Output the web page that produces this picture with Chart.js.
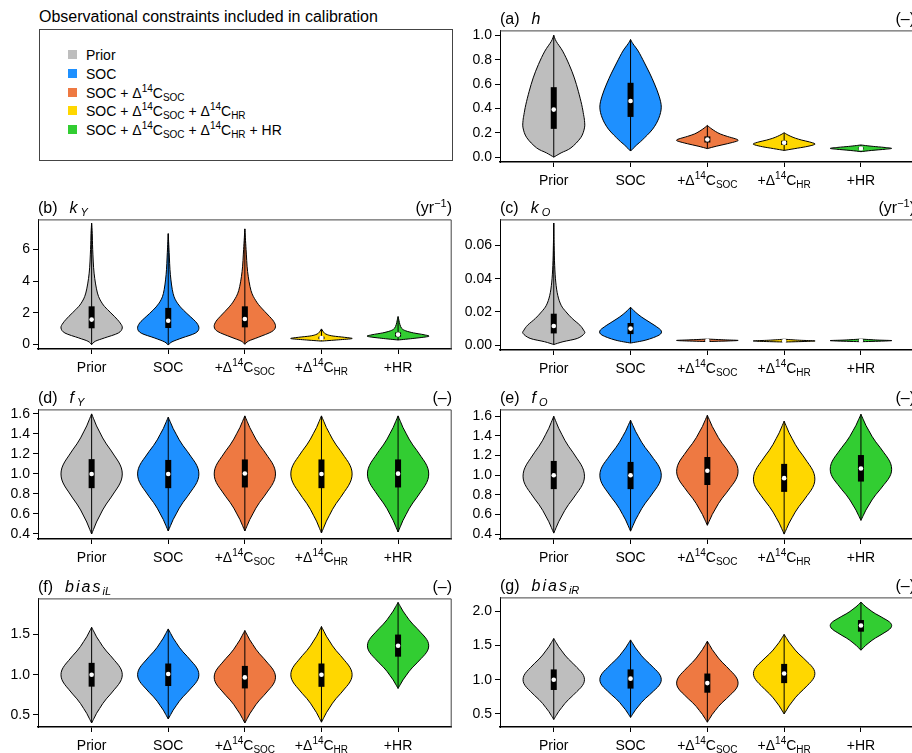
<!DOCTYPE html>
<html>
<head>
<meta charset="utf-8">
<title>Observational constraints included in calibration</title>
<script src="https://cdn.jsdelivr.net/npm/chart.js@4.4.1/dist/chart.umd.min.js"></script>
<style>
  body { margin:0; width:912px; height:753px; overflow:hidden; background:#fff; position:relative;
         font-family:"Liberation Sans", Arial, sans-serif; color:#000; }
  canvas { position:absolute; }
  .lbl { position:absolute; font-size:16px; line-height:18px; white-space:nowrap; }
  .unit { text-align:right; }
  sup, sub { font-size:10px; line-height:0; }
  .lbl sup, .lbl sub { font-size:11px; }
  sub { vertical-align:-3px; }
  sup { vertical-align:6px; }
  #legend { position:absolute; left:39px; top:29px; width:414px; height:132px; border:1px solid #444; box-sizing:border-box; }
  .sq { position:absolute; width:9px; height:9px; left:28px; }
  .item { position:absolute; left:46px; font-size:14px; line-height:16px; white-space:nowrap; }
</style>
</head>
<body>
<div class="lbl" style="left:39px;top:8px">Observational constraints included in calibration</div>
<div id="legend"></div>
<script>
// shared categories / colours
const categories = ['Prior', 'SOC', '+Δ^{14}C_{SOC}', '+Δ^{14}C_{HR}', '+HR'];
const legendLabels = ['Prior', 'SOC', 'SOC + Δ^{14}C_{SOC}', 'SOC + Δ^{14}C_{SOC} + Δ^{14}C_{HR}',
                      'SOC + Δ^{14}C_{SOC} + Δ^{14}C_{HR} + HR'];
const fills = ['#BEBEBE', '#1E90FF', '#EE7942', '#FFD700', '#32CD32'];

// (a) h   -- shapes are [value, relative half width] from bottom tip to top tip
const hTicks = [0, 0.2, 0.4, 0.6, 0.8, 1.0];
const hMedian = [0.39, 0.46, 0.145, 0.118, 0.071];
const hQ1 = [0.232, 0.33, 0.12, 0.10, 0.065];
const hQ3 = [0.574, 0.61, 0.17, 0.135, 0.078];
const hShapes = [
  [[0, 0], [0.035, 0.24], [0.076, 0.56], [0.16, 0.88], [0.24, 1.0], [0.3, 1.0], [0.35, 0.97], [0.43, 0.91], [0.54, 0.8], [0.65, 0.67], [0.76, 0.5], [0.87, 0.29], [0.95, 0.08], [1.0, 0]],
  [[0.05, 0], [0.1, 0.2], [0.14, 0.38], [0.23, 0.72], [0.32, 0.92], [0.41, 1.0], [0.5, 0.93], [0.6, 0.78], [0.69, 0.62], [0.78, 0.44], [0.87, 0.25], [0.93, 0.08], [0.965, 0]],
  [[0.07, 0], [0.09, 0.3], [0.11, 0.65], [0.13, 0.95], [0.14, 1.0], [0.15, 0.92], [0.17, 0.65], [0.19, 0.42], [0.21, 0.27], [0.23, 0.15], [0.245, 0.07], [0.26, 0]],
  [[0.055, 0], [0.07, 0.35], [0.085, 0.7], [0.1, 0.95], [0.11, 1.0], [0.125, 0.82], [0.14, 0.57], [0.155, 0.37], [0.17, 0.22], [0.185, 0.1], [0.2, 0]],
  [[0.045, 0], [0.055, 0.35], [0.065, 0.8], [0.072, 1.0], [0.08, 0.75], [0.088, 0.4], [0.095, 0.15], [0.1, 0]]
];

// (b) k_Y
const kYTicks = [0, 2, 4, 6];
const kYMedian = [1.56, 1.49, 1.6, 0.4, 0.61];
const kYQ1 = [1.01, 1.03, 1.07, 0.33, 0.48];
const kYQ3 = [2.4, 2.3, 2.4, 0.48, 0.75];
const kYShapes = [
  [[-0.02, 0], [0.19, 0.12], [0.4, 0.42], [0.71, 0.87], [1.03, 1.0], [1.35, 0.93], [1.77, 0.74], [2.19, 0.52], [2.6, 0.34], [3.24, 0.19], [4.5, 0.08], [6.0, 0.035], [7.0, 0.02], [7.66, 0]],
  [[-0.05, 0], [0.15, 0.12], [0.4, 0.45], [0.7, 0.88], [1.0, 1.0], [1.35, 0.93], [1.75, 0.72], [2.15, 0.5], [2.6, 0.3], [3.2, 0.16], [4.4, 0.07], [5.8, 0.03], [7.0, 0]],
  [[0.0, 0], [0.2, 0.12], [0.45, 0.45], [0.8, 0.88], [1.1, 1.0], [1.45, 0.94], [1.85, 0.76], [2.3, 0.54], [2.75, 0.36], [3.4, 0.2], [4.6, 0.09], [6.0, 0.04], [7.3, 0]],
  [[0.2, 0], [0.28, 0.55], [0.36, 1.0], [0.44, 0.75], [0.52, 0.38], [0.6, 0.2], [0.7, 0.1], [0.82, 0.05], [0.97, 0]],
  [[0.27, 0], [0.38, 0.55], [0.5, 1.0], [0.6, 0.85], [0.72, 0.5], [0.85, 0.25], [1.0, 0.12], [1.25, 0.06], [1.5, 0.03], [1.75, 0]]
];

// (c) k_O
const kOTicks = [0, 0.02, 0.04, 0.06];
const kOMedian = [0.0115, 0.0099, 0.0026, 0.0024, 0.0026];
const kOQ1 = [0.007, 0.0066, 0.0024, 0.0022, 0.0024];
const kOQ3 = [0.0189, 0.0133, 0.0029, 0.0027, 0.0029];
const kOShapes = [
  [[0.0003, 0], [0.002, 0.3], [0.004, 0.77], [0.007, 1.0], [0.009, 0.97], [0.012, 0.85], [0.016, 0.6], [0.02, 0.4], [0.024, 0.24], [0.03, 0.13], [0.038, 0.065], [0.048, 0.03], [0.06, 0.012], [0.0736, 0]],
  [[0.0012, 0], [0.003, 0.5], [0.006, 0.93], [0.0085, 1.0], [0.011, 0.85], [0.014, 0.6], [0.017, 0.35], [0.02, 0.15], [0.0228, 0]],
  [[0.0021, 0], [0.0025, 0.75], [0.0028, 1.0], [0.0031, 0.6], [0.0036, 0]],
  [[0.0018, 0], [0.0022, 0.75], [0.0025, 1.0], [0.0029, 0.5], [0.0035, 0]],
  [[0.002, 0], [0.0024, 0.75], [0.0027, 1.0], [0.003, 0.55], [0.0036, 0]]
];

// (d)-(g): near-symmetric violins, given by tips and widest point
// relative half width going from the widest point out to a tip
const bellProfile = [1, 0.97, 0.88, 0.75, 0.62, 0.48, 0.36, 0.26, 0.16, 0.08, 0];

const fYTicks = [0.4, 0.6, 0.8, 1.0, 1.2, 1.4, 1.6];
const fYLo = [0.4, 0.43, 0.43, 0.41, 0.42];
const fYPeak = [1.0, 1.0, 1.0, 1.0, 1.0];
const fYHi = [1.6, 1.567, 1.58, 1.58, 1.58];
const fYMedian = [1.0, 1.0, 1.005, 1.0, 1.003];
const fYQ1 = [0.858, 0.858, 0.865, 0.858, 0.865];
const fYQ3 = [1.148, 1.14, 1.145, 1.145, 1.145];

const fOTicks = [0.4, 0.6, 0.8, 1.0, 1.2, 1.4, 1.6];
const fOLo = [0.41, 0.43, 0.49, 0.4, 0.54];
const fOPeak = [0.99, 1.0, 1.04, 0.96, 1.06];
const fOHi = [1.6, 1.56, 1.61, 1.55, 1.62];
const fOMedian = [1.0, 1.0, 1.045, 0.97, 1.068];
const fOQ1 = [0.858, 0.858, 0.9, 0.83, 0.935];
const fOQ3 = [1.145, 1.135, 1.185, 1.115, 1.205];

const bLTicks = [0.5, 1.0, 1.5];
const bLLo = [0.4, 0.45, 0.4, 0.41, 0.83];
const bLPeak = [1.0, 1.0, 0.97, 1.0, 1.36];
const bLHi = [1.59, 1.57, 1.55, 1.6, 1.9];
const bLMedian = [1.0, 1.01, 0.967, 1.0, 1.36];
const bLQ1 = [0.852, 0.86, 0.83, 0.85, 1.225];
const bLQ3 = [1.148, 1.14, 1.11, 1.14, 1.5];

const bRTicks = [0.5, 1.0, 1.5, 2.0];
const bRLo = [0.42, 0.45, 0.38, 0.5, 1.43];
const bRPeak = [1.0, 1.0, 0.95, 1.09, 1.79];
const bRHi = [1.6, 1.58, 1.56, 1.66, 2.13];
const bRMedian = [1.0, 1.015, 0.95, 1.09, 1.79];
const bRQ1 = [0.85, 0.87, 0.81, 0.95, 1.7];
const bRQ3 = [1.15, 1.15, 1.09, 1.23, 1.87];

function bell(lo, peak, hi) {
  const down = bellProfile.map((w, i) => [peak - (peak - lo) * i / 10, w]).reverse();
  const up = bellProfile.slice(1).map((w, i) => [peak + (hi - peak) * (i + 1) / 10, w]);
  return down.concat(up);
}
const bells = (lo, pk, hi) => lo.map((l, i) => bell(l, pk[i], hi[i]));

const unitless = '(–)', perYear = '(yr<sup>−1</sup>)';
const panels = [
  {tag: '(a)', sym: '<i>h</i>', unit: unitless, left: 500, right: 915, top: 29, bottom: 162,
   yMin: -0.04, yMax: 1.04, ticks: hTicks, dec: 1, median: hMedian, q1: hQ1, q3: hQ3, shapes: hShapes},
  {tag: '(b)', sym: '<i>k</i><sub><i>&nbsp;Y</i></sub>', unit: perYear, left: 38, right: 452, top: 218, bottom: 349,
   yMin: -0.3, yMax: 7.9, ticks: kYTicks, dec: 0, median: kYMedian, q1: kYQ1, q3: kYQ3, shapes: kYShapes},
  {tag: '(c)', sym: '<i>k</i><sub><i>&nbsp;O</i></sub>', unit: perYear, left: 500, right: 915, top: 218, bottom: 350,
   yMin: -0.003, yMax: 0.0758, ticks: kOTicks, dec: 2, median: kOMedian, q1: kOQ1, q3: kOQ3, shapes: kOShapes},
  {tag: '(d)', sym: '<i>f</i><sub><i>&nbsp;Y</i></sub>', unit: unitless, left: 38, right: 452, top: 408, bottom: 539,
   yMin: 0.35, yMax: 1.645, ticks: fYTicks, dec: 1, median: fYMedian, q1: fYQ1, q3: fYQ3, shapes: bells(fYLo, fYPeak, fYHi)},
  {tag: '(e)', sym: '<i>f</i><sub><i>&nbsp;O</i></sub>', unit: unitless, left: 500, right: 915, top: 408, bottom: 539,
   yMin: 0.35, yMax: 1.67, ticks: fOTicks, dec: 1, median: fOMedian, q1: fOQ1, q3: fOQ3, shapes: bells(fOLo, fOPeak, fOHi)},
  {tag: '(f)', sym: '<i style="letter-spacing:2px">bias</i><sub><i>iL</i></sub>', unit: unitless, left: 38, right: 452, top: 597, bottom: 727,
   yMin: 0.35, yMax: 1.95, ticks: bLTicks, dec: 1, median: bLMedian, q1: bLQ1, q3: bLQ3, shapes: bells(bLLo, bLPeak, bLHi)},
  {tag: '(g)', sym: '<i style="letter-spacing:2px">bias</i><sub><i>iR</i></sub>', unit: unitless, left: 500, right: 915, top: 596, bottom: 727,
   yMin: 0.31, yMax: 2.2, ticks: bRTicks, dec: 1, median: bRMedian, q1: bRQ1, q3: bRQ3, shapes: bells(bRLo, bRPeak, bRHi)}
];

// little markup: ^{..} superscript, _{..} subscript
function richParts(s) {
  return s.split(/(\^\{[^}]*\}|_\{[^}]*\})/).filter(Boolean).map(t =>
    t[0] === '^' ? {t: t.slice(2, -1), k: 'sup'} : t[0] === '_' ? {t: t.slice(2, -1), k: 'sub'} : {t: t, k: 'n'});
}
function richHtml(s) {
  return richParts(s).map(p => p.k === 'n' ? p.t : '<' + p.k + '>' + p.t + '</' + p.k + '>').join('');
}
function drawRich(ctx, s, cx, base) {
  const parts = richParts(s);
  const font = k => (k === 'n' ? '14px' : '10px') + ' "Liberation Sans", Arial, sans-serif';
  let w = 0;
  parts.forEach(p => { ctx.font = font(p.k); p.w = ctx.measureText(p.t).width; w += p.w; });
  let x = cx - w / 2;
  parts.forEach(p => {
    ctx.font = font(p.k);
    ctx.fillText(p.t, x, base + (p.k === 'sup' ? -6 : p.k === 'sub' ? 3 : 0));
    x += p.w;
  });
}

// smooth curve through points (Catmull-Rom as beziers)
function curveThrough(ctx, pts, start) {
  if (start) ctx.moveTo(pts[0][0], pts[0][1]); else ctx.lineTo(pts[0][0], pts[0][1]);
  for (let i = 0; i < pts.length - 1; i++) {
    const p0 = pts[Math.max(i - 1, 0)], p1 = pts[i], p2 = pts[i + 1], p3 = pts[Math.min(i + 2, pts.length - 1)];
    ctx.bezierCurveTo(p1[0] + (p2[0] - p0[0]) / 6, p1[1] + (p2[1] - p0[1]) / 6,
                      p2[0] - (p3[0] - p1[0]) / 6, p2[1] - (p3[1] - p1[1]) / 6, p2[0], p2[1]);
  }
}

function violinPlugin(p) {
  return {
    id: 'violins',
    beforeDatasetsDraw(chart) {
      const ctx = chart.ctx, x = chart.scales.x, y = chart.scales.y;
      const hw = 0.4 * (x.getPixelForValue(2) - x.getPixelForValue(1));
      ctx.save();
      p.shapes.forEach((sh, i) => {
        const cx = x.getPixelForValue(i + 1);
        const right = sh.map(([v, w]) => [cx + w * hw, y.getPixelForValue(v)]);
        const left = sh.map(([v, w]) => [cx - w * hw, y.getPixelForValue(v)]).reverse();
        ctx.beginPath();
        curveThrough(ctx, right, true);
        curveThrough(ctx, left, false);
        ctx.closePath();
        ctx.fillStyle = fills[i];
        ctx.fill();
        ctx.lineWidth = 1;
        ctx.strokeStyle = '#000';
        ctx.stroke();
        // whisker + box
        ctx.beginPath();
        ctx.moveTo(cx, y.getPixelForValue(sh[0][0]));
        ctx.lineTo(cx, y.getPixelForValue(sh[sh.length - 1][0]));
        ctx.stroke();
        const top = y.getPixelForValue(p.q3[i]), bot = y.getPixelForValue(p.q1[i]);
        ctx.fillStyle = '#000';
        ctx.fillRect(cx - 3, top, 6, bot - top);
      });
      ctx.restore();
    },
    afterDraw(chart) {
      const ctx = chart.ctx, a = chart.chartArea, x = chart.scales.x;
      ctx.save();
      ctx.strokeStyle = '#444';
      ctx.lineWidth = 1;
      ctx.beginPath();
      ctx.moveTo(a.left, a.top + 0.5); ctx.lineTo(a.right - 0.5, a.top + 0.5); ctx.lineTo(a.right - 0.5, a.bottom);
      ctx.stroke();
      ctx.fillStyle = '#000';
      ctx.textBaseline = 'alphabetic';
      categories.forEach((c, i) => drawRich(ctx, c, x.getPixelForValue(i + 1), a.bottom + 23));
      ctx.restore();
    }
  };
}

function makePanel(p) {
  const padTop = 10, xH = 40, yW = 38, padR = 2;
  const canvas = document.createElement('canvas');
  const w = yW + (p.right - p.left) + padR, h = padTop + (p.bottom - p.top) + xH;
  canvas.width = w; canvas.height = h;
  canvas.style.left = (p.left - yW) + 'px';
  canvas.style.top = (p.top - padTop) + 'px';
  canvas.style.width = w + 'px'; canvas.style.height = h + 'px';
  document.body.appendChild(canvas);

  const title = document.createElement('div');
  title.className = 'lbl';
  title.style.left = p.left + 'px'; title.style.top = (p.top - 19) + 'px';
  title.innerHTML = p.tag + '<span style="margin-left:12px">' + p.sym + '</span>';
  document.body.appendChild(title);
  const unit = document.createElement('div');
  unit.className = 'lbl unit';
  unit.style.left = (p.right - 100) + 'px'; unit.style.width = '100px'; unit.style.top = (p.top - 19) + 'px';
  unit.innerHTML = p.unit;
  document.body.appendChild(unit);

  new Chart(canvas.getContext('2d'), {
    type: 'scatter',
    data: {
      datasets: [{
        data: p.median.map((m, i) => ({x: i + 1, y: m})),
        pointRadius: 2.3, pointHoverRadius: 2.3,
        pointBackgroundColor: '#fff', pointBorderWidth: 0
      }]
    },
    options: {
      responsive: false, animation: false, events: [],
      layout: {padding: {top: padTop, right: padR, left: 0, bottom: 0}},
      plugins: {legend: {display: false}, tooltip: {enabled: false}},
      scales: {
        x: {
          type: 'linear', min: 0.3, max: 5.7,
          afterBuildTicks: s => { s.ticks = [1, 2, 3, 4, 5].map(v => ({value: v})); },
          afterFit: s => { s.height = xH; },
          grid: {drawOnChartArea: false, drawTicks: true, tickLength: 5, color: '#000'},
          border: {color: '#000', width: 1.5},
          ticks: {autoSkip: false, callback: () => ''}
        },
        y: {
          min: p.yMin, max: p.yMax,
          afterBuildTicks: s => { s.ticks = p.ticks.map(v => ({value: v})); },
          afterFit: s => { s.width = yW; },
          grid: {drawOnChartArea: false, drawTicks: true, tickLength: 5, color: '#000'},
          border: {color: '#000', width: 1},
          ticks: {color: '#000', padding: 3, font: {size: 14, family: '"Liberation Sans", Arial, sans-serif'},
                  callback: v => v.toFixed(p.dec)}
        }
      }
    },
    plugins: [violinPlugin(p)]
  });
}

// legend box
const legend = document.getElementById('legend');
legendLabels.forEach((lab, i) => {
  const top = 25 + i * 18.75;
  const sq = document.createElement('div');
  sq.className = 'sq'; sq.style.top = (top - 5) + 'px'; sq.style.background = fills[i];
  const it = document.createElement('div');
  it.className = 'item'; it.style.top = (top - 8) + 'px';
  it.innerHTML = richHtml(lab);
  legend.appendChild(sq); legend.appendChild(it);
});

panels.forEach(makePanel);
</script>
</body>
</html>
